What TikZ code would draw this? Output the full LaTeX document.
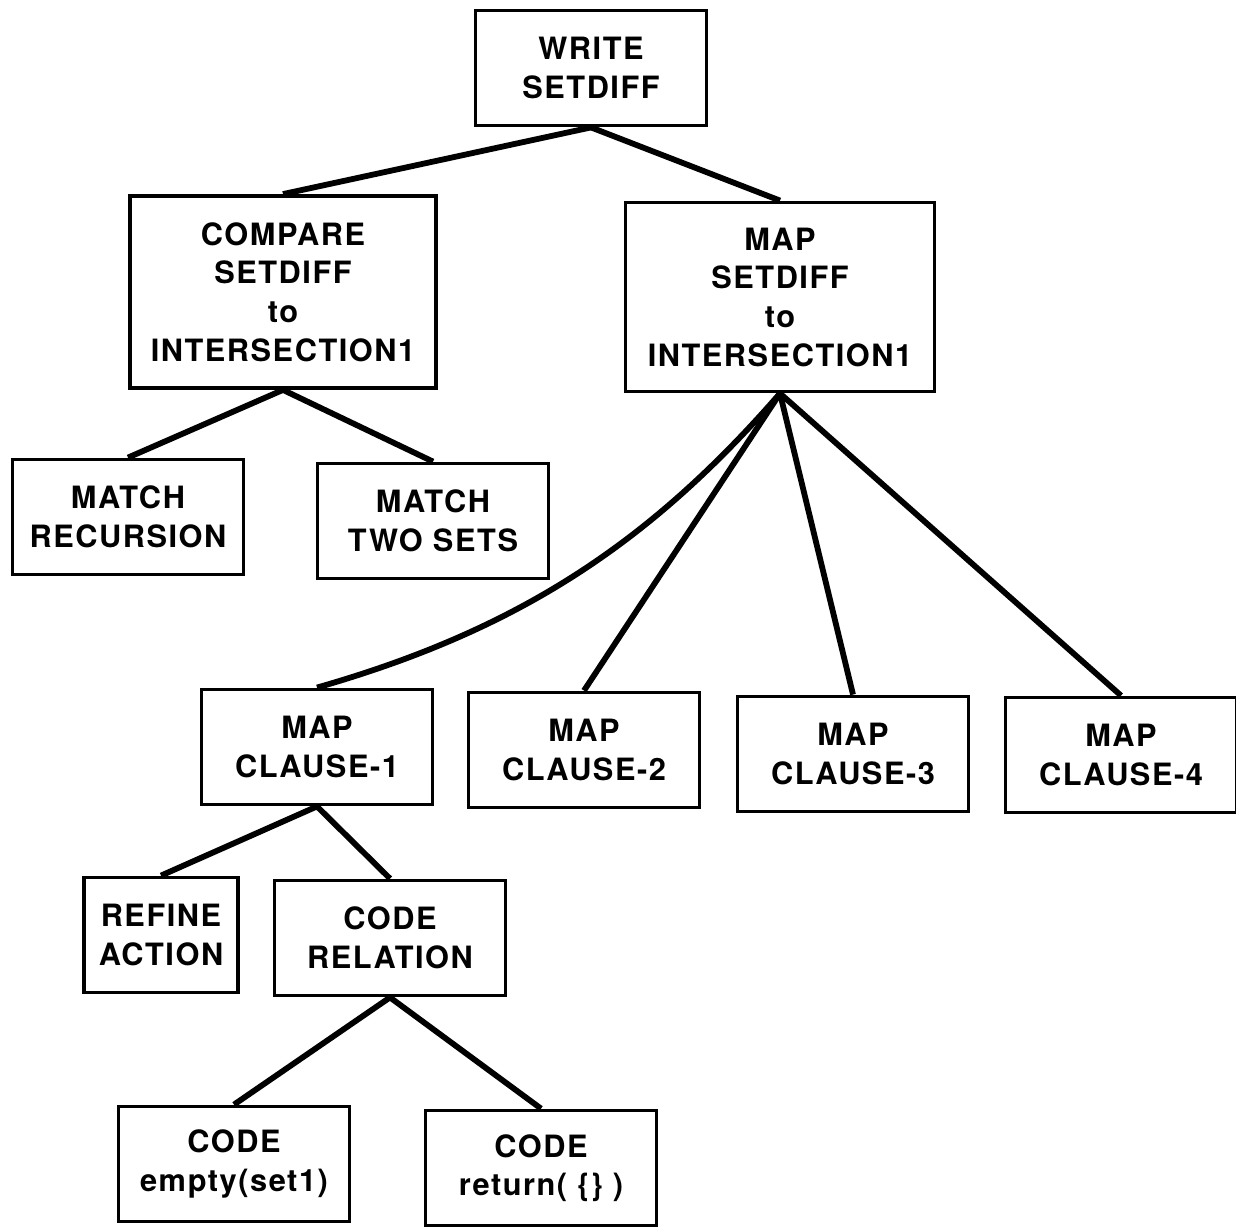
\documentclass[tikz,border=0pt]{standalone}
\usepackage{fontspec}
\setmainfont[LetterSpace=5]{TeX Gyre Heros}
\usetikzlibrary{positioning}

\begin{document}
\begin{tikzpicture}[x=0.02cm, y=-0.02cm,
    goalbox/.style={draw, line width=2.2pt, inner sep=0pt, align=center,
      minimum width=4.62cm, minimum height=2.3cm,
      font=\fontsize{17.5}{22}\selectfont\bfseries},
    link/.style={line width=3.3pt}]
  \useasboundingbox (0,0) rectangle (1236,1226);
  % Top goal
  \node[goalbox] (write) at (591,68) {WRITE\\SETDIFF};
  % Second level
  \node[goalbox, minimum width=6.12cm, minimum height=3.84cm] (compare) at (283,292)
    {COMPARE\\SETDIFF\\to\\INTERSECTION1};
  \node[goalbox, minimum width=6.18cm, minimum height=3.78cm] (mapsd) at (780,297)
    {MAP\\SETDIFF\\to\\INTERSECTION1};
  % Matching subgoals
  \node[goalbox] (matchrec) at (128,517) {MATCH\\RECURSION};
  \node[goalbox] (twosets) at (433,521) {MATCH\\TWO SETS};
  % Clause mapping
  \node[goalbox] (clause1) at (317,747) {MAP\\CLAUSE-1};
  \node[goalbox] (clause2) at (584,750) {MAP\\CLAUSE-2};
  \node[goalbox] (clause3) at (853,754) {MAP\\CLAUSE-3};
  \node[goalbox] (clause4) at (1121,755) {MAP\\CLAUSE-4};
  % Below clause 1
  \node[goalbox, minimum width=3.08cm] (refine) at (161,935) {REFINE\\ACTION};
  \node[goalbox] (coderel) at (390,938) {CODE\\RELATION};
  \node[goalbox] (codeempty) at (234,1164) {CODE\\empty(set1)};
  \node[goalbox] (coderet) at (541,1168) {CODE\\return( \{\} )};

  % Links
  \draw[link] (write.south) -- (compare.north);
  \draw[link] (write.south) -- (mapsd.north);
  \draw[link] (compare.south) -- (matchrec.north);
  \draw[link] (compare.south) -- (twosets.north);
  \draw[link] (mapsd.south) to[out=-131, in=16, looseness=0.95] (clause1.north);
  \draw[link] (mapsd.south) -- (clause2.north);
  \draw[link] (mapsd.south) -- (clause3.north);
  \draw[link] (mapsd.south) -- (clause4.north);
  \draw[link] (clause1.south) -- (refine.north);
  \draw[link] (clause1.south) -- (coderel.north);
  \draw[link] (coderel.south) -- (codeempty.north);
  \draw[link] (coderel.south) -- (coderet.north);
\end{tikzpicture}
\end{document}
